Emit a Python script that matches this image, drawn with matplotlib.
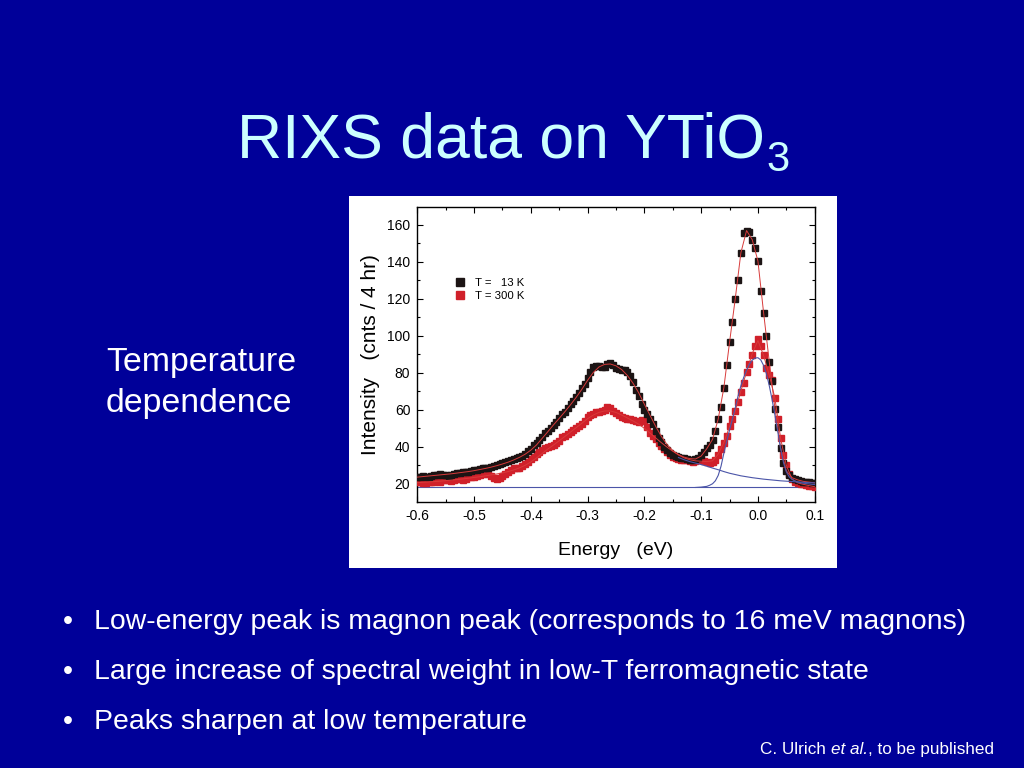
import numpy as np
import matplotlib
matplotlib.use('Agg')
import matplotlib.pyplot as plt
from matplotlib.patches import Rectangle
from matplotlib.ticker import MultipleLocator

plt.rcParams['font.family'] = ['Liberation Sans', 'DejaVu Sans']
plt.rcParams['axes.unicode_minus'] = False

# measured spectra, energy grid -0.600 ... 0.100 eV, 0.005 eV steps
energy = np.linspace(-0.6, 0.1, 141)
t13 = [23.5, 23.8, 24.2, 23.9, 23.8, 24.3, 24.6, 24.8, 25.2, 25.0,
       24.6, 24.3, 24.9, 25.3, 25.6, 26.0, 26.2, 26.1, 26.4, 26.8,
       27.2, 27.4, 27.9, 28.3, 28.6, 28.8, 29.3, 29.8, 30.2, 30.7,
       31.2, 31.6, 32.2, 32.7, 33.2, 33.8, 34.5, 35.2, 36.0, 37.6,
       39.0, 40.8, 42.2, 43.5, 45.3, 47.2, 48.6, 50.4, 51.9, 53.6,
       55.6, 57.5, 59.0, 61.0, 63.0, 65.0, 66.8, 69.0, 71.6, 74.0,
       77.2, 80.4, 83.0, 83.5, 83.8, 83.4, 83.0, 84.8, 85.4, 84.2,
       82.6, 82.2, 81.8, 81.3, 80.4, 78.2, 75.2, 71.0, 67.6, 63.0,
       60.0, 57.8, 55.0, 52.2, 48.6, 44.6, 42.4, 40.0, 38.3, 36.6,
       35.7, 35.0, 34.5, 34.2, 33.9, 33.5, 33.0, 32.8, 33.3, 34.0,
       35.3, 37.2, 39.3, 41.2, 43.6, 48.8, 55.0, 61.8, 72.0, 84.0,
       96.5, 107.5, 120.0, 130.5, 145.0, 155.5, 157.0, 156.4, 152.0, 147.5,
       140.5, 124.5, 112.5, 100.0, 86.0, 75.5, 60.7, 50.5, 39.5, 31.0,
       27.0, 24.7, 23.3, 22.6, 22.1, 21.6, 21.2, 21.1, 20.9, 20.6,
       20.2]
t300 = [20.8, 21.0, 20.6, 20.4, 20.7, 20.9, 21.2, 21.4, 21.0, 21.8,
        22.2, 21.8, 21.6, 22.3, 22.6, 22.4, 22.2, 22.8, 23.5, 23.8,
        23.6, 24.2, 24.8, 25.4, 25.8, 25.2, 24.0, 23.0, 22.7, 23.1,
        24.0, 25.5, 26.6, 27.6, 28.3, 28.3, 28.8, 29.8, 30.6, 32.0,
        33.4, 34.6, 36.0, 37.3, 38.5, 39.3, 40.0, 40.6, 41.2, 42.3,
        43.4, 45.2, 46.0, 47.0, 48.0, 49.1, 50.0, 51.0, 52.6, 54.2,
        56.0, 57.2, 58.0, 58.6, 58.9, 59.3, 59.9, 61.4, 61.0, 59.6,
        58.1, 57.0, 56.1, 55.4, 55.2, 54.9, 54.6, 54.2, 53.6, 54.3,
        53.8, 50.6, 47.2, 45.8, 44.2, 42.0, 40.3, 38.6, 37.0, 35.6,
        34.7, 33.9, 33.3, 33.0, 32.8, 32.6, 32.2, 32.0, 32.3, 32.8,
        32.8, 32.2, 31.8, 31.5, 32.0, 33.0, 35.8, 38.6, 41.8, 46.0,
        51.0, 55.0, 59.3, 64.0, 69.8, 74.6, 80.6, 85.0, 89.8, 94.4,
        98.3, 94.4, 89.4, 82.6, 78.8, 76.0, 66.2, 55.3, 44.5, 35.5,
        30.0, 25.5, 22.6, 21.1, 20.5, 20.1, 19.7, 19.3, 19.0, 18.6,
        18.4]

# fit curves, 0.01 eV steps
fit_e = np.linspace(-0.6, 0.1, 71)
fit13 = [23.6, 23.9, 24.2, 24.5, 24.8, 25.1, 25.4, 25.8, 26.2, 26.6,
         27.1, 27.7, 28.3, 29.0, 29.8, 30.7, 31.7, 32.9, 34.3, 36.0,
         38.2, 41.0, 44.6, 48.2, 51.9, 55.4, 59.0, 62.8, 66.8, 71.2,
         76.0, 80.2, 83.2, 84.6, 84.8, 83.8, 81.8, 78.6, 74.4, 69.2,
         63.0, 57.0, 51.0, 45.6, 41.2, 38.0, 35.8, 34.4, 33.6, 33.4,
         35.0, 39.0, 44.0, 55.0, 72.0, 96.5, 120.0, 145.0, 157.0, 152.0,
         140.5, 112.5, 86.0, 60.7, 39.5, 27.0, 23.3, 22.1, 21.3, 20.9,
         20.5]
fit300 = [20.6, 20.8, 21.0, 21.2, 21.4, 21.7, 22.0, 22.3, 22.6, 23.0,
          23.4, 23.8, 24.3, 24.8, 25.3, 25.9, 26.6, 27.5, 28.6, 30.0,
          31.8, 34.0, 36.4, 38.8, 41.0, 43.3, 45.6, 48.0, 50.4, 52.8,
          55.2, 57.2, 58.6, 59.4, 59.4, 58.6, 57.2, 55.6, 54.0, 52.2,
          50.0, 47.4, 44.8, 42.2, 39.8, 37.6, 35.6, 34.0, 33.0, 32.4,
          32.2, 32.0, 32.4, 36.0, 42.3, 51.0, 59.3, 70.2, 80.6, 90.5,
          97.5, 89.4, 78.8, 66.2, 44.5, 30.0, 22.6, 20.5, 19.7, 19.0,
          18.4]

# fit components (blue)
bg_e = [-0.6, 0.1]
bg = [18.0, 18.0]
tail_e = np.linspace(-0.14, 0.1, 25)
tail = [34.2, 33.0, 32.0, 31.2, 30.4, 29.5, 28.5, 27.6, 26.6, 25.7,
        25.0, 24.3, 23.8, 23.3, 22.9, 22.5, 22.2, 21.9, 21.6, 21.4,
        21.2, 21.0, 20.8, 20.6, 20.5]
peak_e = np.linspace(-0.11, 0.1, 43)
peak = [18.0, 18.1, 18.2, 18.4, 18.6, 19.2, 20.0, 21.6, 24.5, 29.5,
        36.5, 43.0, 49.0, 55.0, 61.0, 67.5, 73.0, 77.6, 81.5, 84.7,
        86.9, 88.0, 88.2, 87.0, 84.0, 79.5, 73.0, 65.5, 57.0, 48.0,
        39.0, 31.5, 26.5, 23.8, 22.4, 21.6, 21.0, 20.6, 20.3, 20.1,
        19.9, 19.7, 19.6]

xticks = [-0.6, -0.5, -0.4, -0.3, -0.2, -0.1, 0.0, 0.1]
xtick_labels = ['-0.6', '-0.5', '-0.4', '-0.3', '-0.2', '-0.1', '0.0', '0.1']
yticks = [20, 40, 60, 80, 100, 120, 140, 160]

bullets = ['Low-energy peak is magnon peak (corresponds to 16 meV magnons)',
           'Large increase of spectral weight in low-T ferromagnetic state',
           'Peaks sharpen at low temperature']

W, H = 1024.0, 768.0
fig = plt.figure(figsize=(10.24, 7.68), dpi=100)
fig.patch.set_facecolor('#000099')
rend = fig.canvas.get_renderer()

# white picture panel
fig.add_artist(Rectangle((349 / W, 1 - 568 / H), 488 / W, 372 / H,
                         transform=fig.transFigure, facecolor='white',
                         edgecolor='none', zorder=0))

ax = fig.add_axes([417.3 / W, 1 - 501.7 / H, 397.4 / W, 295.0 / H])
ax.set_facecolor('white')

blk = '#1c1414'
red = '#d0202a'
fitc = '#d83a3a'
bluec = '#4b55a8'

ax.plot(bg_e, bg, color=bluec, lw=0.8, zorder=2)
h300, = ax.plot(energy, t300, 's', color=red, mec=red, ms=5, zorder=3)
h13, = ax.plot(energy, t13, 's', color=blk, mec=blk, ms=5, zorder=4)
ax.plot(fit_e, fit13, color=fitc, lw=0.7, zorder=5)
ax.plot(fit_e, fit300, color=fitc, lw=0.7, zorder=5)
ax.plot(tail_e, tail, color=bluec, lw=0.8, zorder=5)
ax.plot(peak_e, peak, color=bluec, lw=0.8, zorder=5)

ax.set_xlim(-0.6, 0.1)
ax.set_ylim(10.3, 169.9)
ax.set_xticks(xticks)
ax.set_xticklabels(xtick_labels)
ax.set_yticks(yticks)
ax.xaxis.set_minor_locator(MultipleLocator(0.05))
ax.yaxis.set_minor_locator(MultipleLocator(10))
ax.tick_params(which='both', direction='in', top=True, right=True,
               labelsize=10, pad=5, width=0.8)
ax.tick_params(which='major', length=4)
ax.tick_params(which='minor', length=2.2)
for s in ax.spines.values():
    s.set_linewidth(1.0)

ax.set_xlabel('Energy   (eV)', fontsize=14, labelpad=14)
ax.set_ylabel('Intensity   (cnts / 4 hr)', fontsize=15, labelpad=5)

ax.legend([h13, h300], ['T =   13 K', 'T = 300 K'], loc='upper left',
          bbox_to_anchor=(0.085, 0.775), frameon=False, fontsize=8.2,
          handlelength=0.8, handletextpad=0.9, labelspacing=0.3,
          borderaxespad=0, markerscale=1.2)

# slide title with subscript placed after the main text
t = fig.text(237 / W, 1 - 157 / H, 'RIXS data on YTiO', fontsize=45,
             color='#ccffff', va='baseline', ha='left')
bb = t.get_window_extent(rend)
fig.text((bb.x1 + 1) / W, 1 - 171 / H, '3', fontsize=30, color='#ccffff',
         va='baseline', ha='left')

fig.text(106 / W, 1 - 371 / H, 'Temperature', fontsize=24.4, color='white',
         va='baseline')
fig.text(106 / W, 1 - 412 / H, 'dependence', fontsize=24.4, color='white',
         va='baseline')
for i, b in enumerate(bullets):
    yb = 1 - (629 + 50 * i) / H
    fig.text(63 / W, yb, '\u2022', fontsize=20.4, color='white', va='baseline')
    fig.text(94 / W, yb, b, fontsize=20.4, color='white', va='baseline')

# credit line: normal / italic / normal pieces
x = 760.0
for piece, style in [('C. Ulrich ', 'normal'), ('et al.', 'italic'),
                     (', to be published', 'normal')]:
    tt = fig.text(x / W, 1 - 754 / H, piece, fontsize=12.35, color='white',
                  va='baseline', ha='left', style=style)
    x = tt.get_window_extent(rend).x1

fig.savefig('out.png', dpi=100, facecolor=fig.get_facecolor())
